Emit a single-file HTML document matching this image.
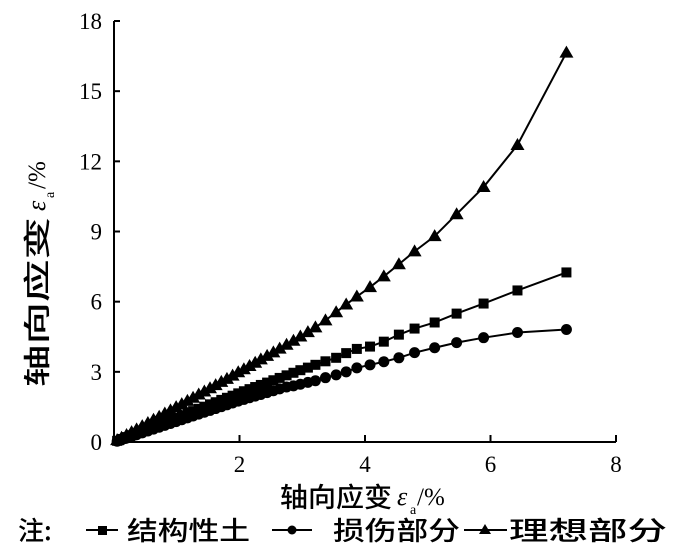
<!DOCTYPE html>
<html><head><meta charset="utf-8"><style>
body{margin:0;background:#fff;}
svg text{font-family:"Liberation Serif","Noto Serif CJK SC",serif;fill:#000;}
.cj{font-family:"Noto Sans CJK SC","WenQuanYi Zen Hei",sans-serif;font-weight:500;}
</style></head><body>
<svg id="chart" width="700" height="555" xmlns="http://www.w3.org/2000/svg">
<g id="axes"></g><g id="series"></g>
<g>
<text class="cj" x="280" y="507" font-size="27" textLength="112" lengthAdjust="spacingAndGlyphs">轴向应变</text>
<text x="397" y="505" font-size="26" font-style="italic">ε</text>
<text x="410" y="514" font-size="14">a</text>
<text x="417" y="505" font-size="25">/%</text>
</g>
<g transform="translate(47,387) rotate(-90)">
<text class="cj" x="0" y="0" font-size="27" textLength="170" lengthAdjust="spacingAndGlyphs">轴向应变</text>
<text x="176" y="-2" font-size="26" font-style="italic">ε</text>
<text x="189" y="7" font-size="14">a</text>
<text x="198" y="-2" font-size="25">/%</text>
</g>
<g>
<text class="cj" x="18" y="540" font-size="26">注:</text>
<line x1="86" y1="530" x2="118" y2="530" stroke="#000" stroke-width="2"/><rect x="98" y="526" width="9" height="9"/>
<text class="cj" x="127" y="540" font-size="26" textLength="123" lengthAdjust="spacingAndGlyphs">结构性土</text>
<line x1="272" y1="530" x2="312" y2="530" stroke="#000" stroke-width="2"/><circle cx="292" cy="530" r="4.5"/>
<text class="cj" x="333" y="540" font-size="26" textLength="127" lengthAdjust="spacingAndGlyphs">损伤部分</text>
<line x1="464" y1="530" x2="507" y2="530" stroke="#000" stroke-width="2"/><path d="M485,524 L491,534 L479,534Z"/>
<text class="cj" x="509" y="540" font-size="26" textLength="158" lengthAdjust="spacingAndGlyphs">理想部分</text>
</g>
</svg>
<script>
const strain=[0.05,0.12,0.2,0.28,0.36,0.45,0.54,0.63,0.72,0.81,0.9,0.99,1.08,1.17,1.26,1.35,1.44,1.53,1.62,1.71,1.8,1.89,1.98,2.07,2.16,2.25,2.34,2.44,2.54,2.64,2.75,2.86,2.97,3.09,3.21,3.37,3.54,3.70,3.87,4.08,4.30,4.54,4.79,5.11,5.46,5.89,6.43,7.21];
const structured=[0.05,0.13,0.21,0.29,0.38,0.47,0.57,0.66,0.76,0.85,0.95,1.04,1.13,1.23,1.32,1.42,1.51,1.61,1.70,1.80,1.89,1.98,2.08,2.17,2.26,2.35,2.44,2.54,2.64,2.74,2.85,2.96,3.07,3.18,3.30,3.45,3.60,3.80,3.98,4.08,4.29,4.59,4.85,5.11,5.49,5.92,6.48,7.25];
const damaged=[0.03,0.09,0.16,0.23,0.31,0.39,0.47,0.55,0.63,0.71,0.79,0.87,0.95,1.03,1.11,1.19,1.27,1.35,1.43,1.51,1.59,1.67,1.75,1.82,1.89,1.96,2.03,2.11,2.19,2.27,2.35,2.40,2.47,2.55,2.62,2.75,2.87,3.00,3.17,3.30,3.43,3.60,3.82,4.03,4.25,4.46,4.68,4.81];
const ideal=[0.08,0.18,0.30,0.42,0.54,0.68,0.81,0.95,1.08,1.22,1.35,1.49,1.62,1.76,1.89,2.03,2.16,2.30,2.43,2.57,2.70,2.84,2.98,3.11,3.25,3.39,3.53,3.68,3.83,3.99,4.16,4.33,4.51,4.70,4.90,5.20,5.55,5.88,6.22,6.62,7.08,7.60,8.15,8.80,9.74,10.90,12.70,16.65];
const xTicks=[2,4,6,8];
const yTicks=[0,3,6,9,12,15,18];
const NS="http://www.w3.org/2000/svg";
const X0=114,X1=616,Y0=442,Y1=21;
const sx=v=>X0+v*(X1-X0)/8;
const sy=v=>Y0-v*(Y0-Y1)/18;
function mk(t,a,p){const e=document.createElementNS(NS,t);for(const k in a)e.setAttribute(k,a[k]);p.appendChild(e);return e;}
const ax=document.getElementById('axes');
const xa=mk('line',{x1:X0,y1:Y0,x2:X1,y2:Y0,stroke:'#000','stroke-width':2},ax);


const ya=mk('line',{x1:X0,y1:Y0,x2:X0,y2:Y1,stroke:'#000','stroke-width':2},ax);


xTicks.forEach(v=>{mk('line',{x1:sx(v),y1:Y0,x2:sx(v),y2:Y0-7,stroke:'#000','stroke-width':2},ax);
const t=mk('text',{x:sx(v),y:Y0+30,'text-anchor':'middle','font-size':23},ax);t.textContent=v;

});
yTicks.forEach(v=>{mk('line',{x1:X0,y1:sy(v),x2:X0+6,y2:sy(v),stroke:'#000','stroke-width':2},ax);
const t=mk('text',{x:102,y:sy(v)+8,'text-anchor':'end','font-size':23},ax);t.textContent=v;

});
const sg=document.getElementById('series');
function series(vals,name,shape){
const g=mk('g',{},sg);


mk('polyline',{points:strain.map((x,i)=>sx(x)+','+sy(vals[i])).join(' '),fill:'none',stroke:'#000','stroke-width':2},g);
strain.forEach((x,i)=>{const cx=sx(x),cy=sy(vals[i]);
if(shape==='sq')mk('rect',{x:cx-5,y:cy-5,width:10,height:10},g);
else if(shape==='c')mk('circle',{cx:cx,cy:cy,r:5.5},g);
else mk('path',{d:`M${cx},${cy-7} L${cx+7},${cy+5} L${cx-7},${cy+5}Z`},g);});
}
series(damaged,'series-damaged','c');
series(structured,'series-structured','sq');
series(ideal,'series-ideal','t');
</script>
</body></html>
